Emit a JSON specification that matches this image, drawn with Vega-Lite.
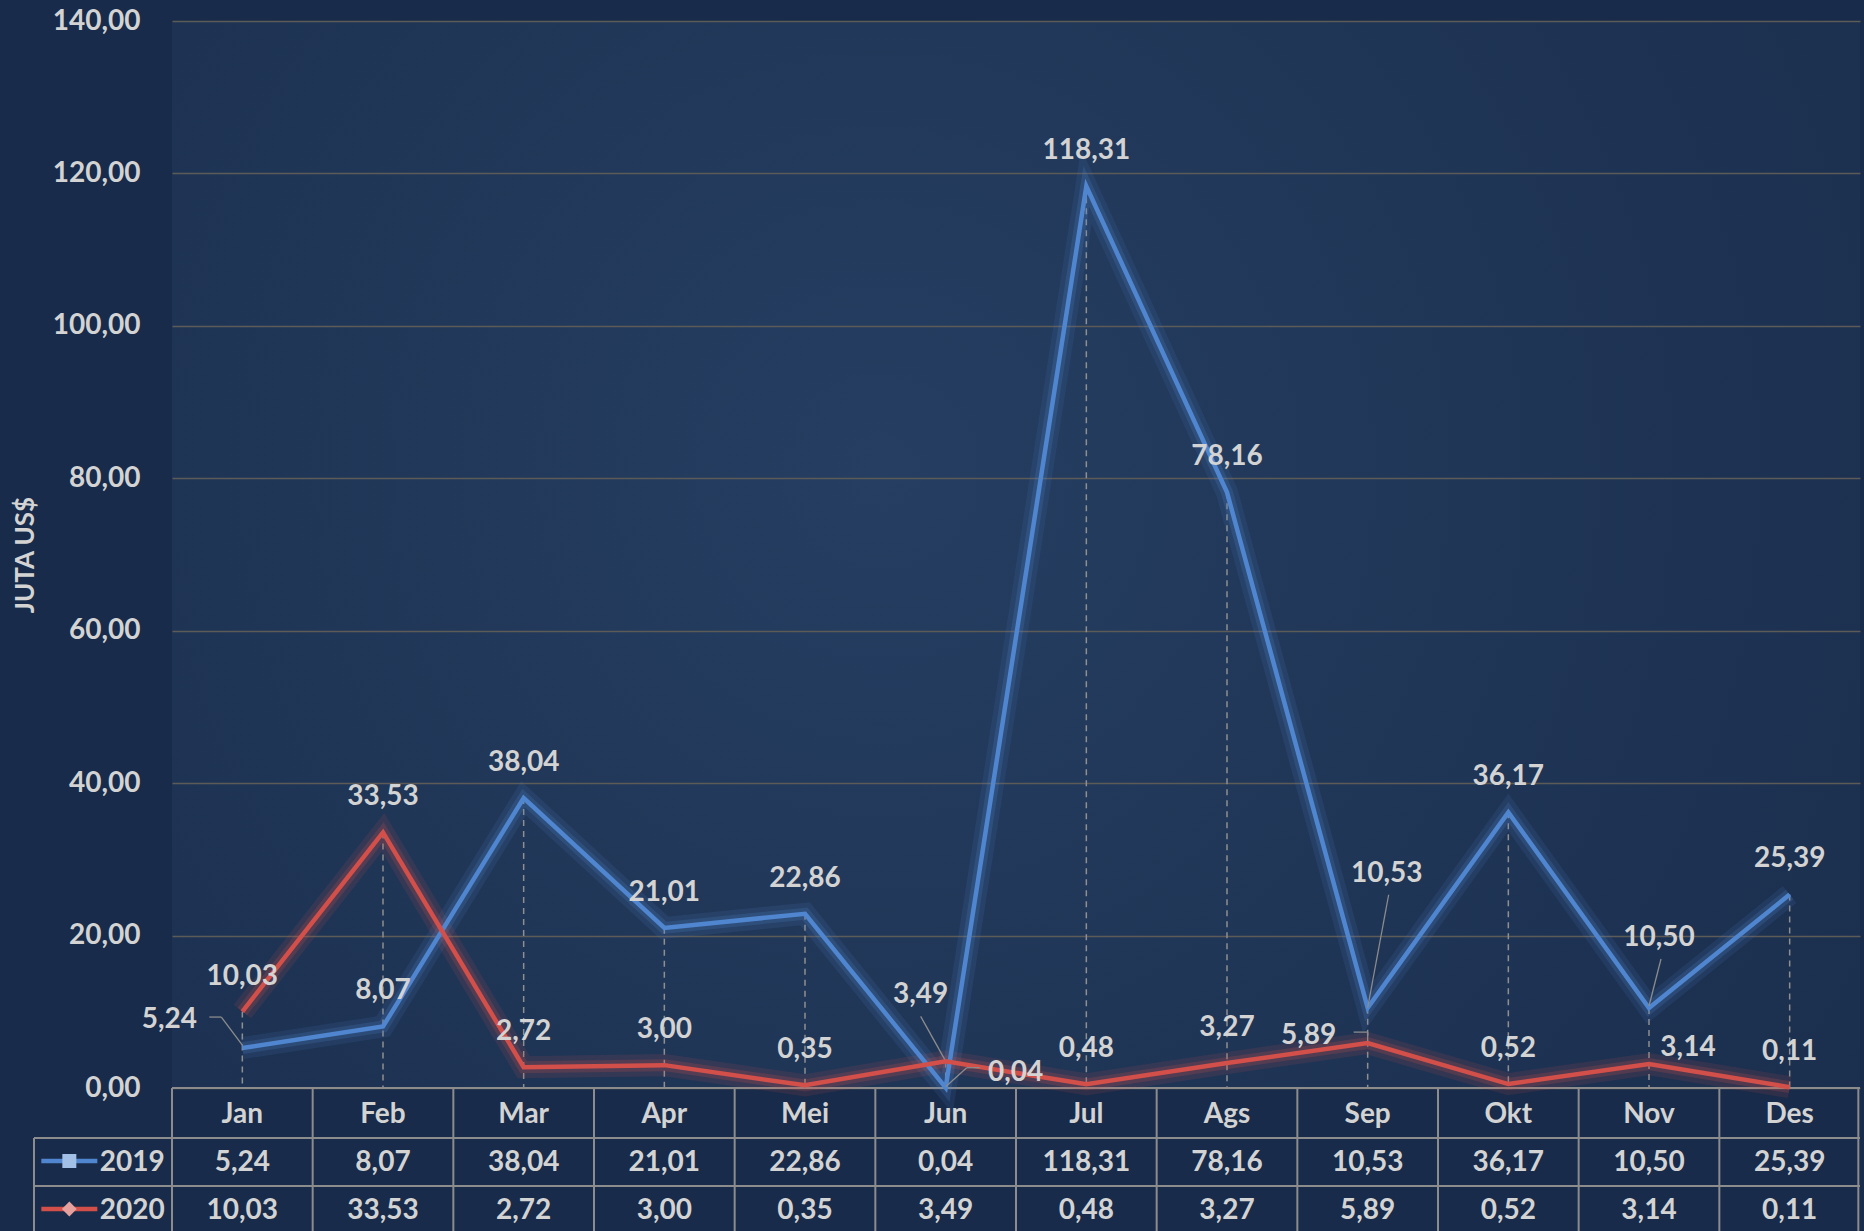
{
  "$schema": "https://vega.github.io/schema/vega-lite/v6.json",
  "width": 1688,
  "height": 1067,
  "autosize": {"type": "none"},
  "padding": {"left": 172, "top": 21, "right": 4, "bottom": 143},
  "background": "#182b4a",
  "config": {
    "locale": {"number": {"decimal": ",", "thousands": ".", "grouping": [3], "currency": ["", ""]}},
    "view": {"stroke": null, "fill": {"gradient": "radial", "x1": 0.42, "y1": 0.45, "r1": 0, "x2": 0.42, "y2": 0.45, "r2": 0.75, "stops": [{"offset": 0, "color": "#253e61"}, {"offset": 1, "color": "#1a2d4c"}]}},
    "font": "Lato",
    "text": {"font": "Lato", "fontWeight": "bold", "fontSize": 28, "fill": "#d3d3d3", "baseline": "middle", "align": "center"}
  },
  "data": {"values": [
    {"month": "Jan", "series": "2019", "value": 5.24},
    {"month": "Feb", "series": "2019", "value": 8.07},
    {"month": "Mar", "series": "2019", "value": 38.04},
    {"month": "Apr", "series": "2019", "value": 21.01},
    {"month": "Mei", "series": "2019", "value": 22.86},
    {"month": "Jun", "series": "2019", "value": 0.04},
    {"month": "Jul", "series": "2019", "value": 118.31},
    {"month": "Ags", "series": "2019", "value": 78.16},
    {"month": "Sep", "series": "2019", "value": 10.53},
    {"month": "Okt", "series": "2019", "value": 36.17},
    {"month": "Nov", "series": "2019", "value": 10.50},
    {"month": "Des", "series": "2019", "value": 25.39},
    {"month": "Jan", "series": "2020", "value": 10.03},
    {"month": "Feb", "series": "2020", "value": 33.53},
    {"month": "Mar", "series": "2020", "value": 2.72},
    {"month": "Apr", "series": "2020", "value": 3.00},
    {"month": "Mei", "series": "2020", "value": 0.35},
    {"month": "Jun", "series": "2020", "value": 3.49},
    {"month": "Jul", "series": "2020", "value": 0.48},
    {"month": "Ags", "series": "2020", "value": 3.27},
    {"month": "Sep", "series": "2020", "value": 5.89},
    {"month": "Okt", "series": "2020", "value": 0.52},
    {"month": "Nov", "series": "2020", "value": 3.14},
    {"month": "Des", "series": "2020", "value": 0.11}
  ]},
  "layer": [
    {
      "mark": {"type": "rule", "stroke": "#8f8f8f", "strokeWidth": 1.5, "strokeDash": [6, 5]},
      "encoding": {
        "x": {"field": "month", "type": "nominal", "scale": {"type": "band", "domain": ["Jan","Feb","Mar","Apr","Mei","Jun","Jul","Ags","Sep","Okt","Nov","Des"], "paddingInner": 0, "paddingOuter": 0}, "axis": null},
        "y": {"aggregate": "max", "field": "value", "type": "quantitative", "title": "JUTA US$",
              "scale": {"domain": [0, 140], "nice": false},
              "axis": {"values": [0,20,40,60,80,100,120,140], "format": ".2f", "labelFont": "Lato", "labelFontSize": 28, "labelFontWeight": "bold", "labelColor": "#d3d3d3", "labelPadding": 32, "ticks": false, "domain": false, "grid": true, "gridColor": "#5d5b57", "gridWidth": 1.5, "title": "JUTA US$", "titleFont": "Lato", "titleFontSize": 26, "titleFontWeight": "bold", "titleColor": "#d3d3d3", "titlePadding": 14}},
        "y2": {"datum": 0}
      }
    },
    {
      "transform": [{"filter": "datum.month == 'Jan' && datum.series == '2019'"}],
      "mark": {"type": "rule", "stroke": "#8c8c8c", "strokeWidth": 2},
      "encoding": {"y": {"datum": 0, "type": "quantitative"}}
    },
    {
      "transform": [{"filter": "datum.month == 'Jan' && datum.series == '2019'"}],
      "mark": {"type": "rule", "stroke": "#8c8c8c", "strokeWidth": 2, "yOffset": 50},
      "encoding": {"y": {"datum": 0, "type": "quantitative"}}
    },
    {
      "transform": [{"filter": "datum.month == 'Jan' && datum.series == '2019'"}],
      "mark": {"type": "rule", "stroke": "#8c8c8c", "strokeWidth": 2, "yOffset": 98},
      "encoding": {"y": {"datum": 0, "type": "quantitative"}}
    },
    {
      "transform": [{"filter": "datum.month == 'Jan' && datum.series == '2019'"}],
      "mark": {"type": "rule", "stroke": "#8c8c8c", "strokeWidth": 2, "xOffset": -138, "x2Offset": 0, "yOffset": 50, "y2Offset": 50},
      "encoding": {"x": {"field": "month", "type": "nominal", "bandPosition": 0}, "x2": {"field": "month", "bandPosition": 0}, "y": {"datum": 0, "type": "quantitative"}, "y2": {"datum": 0}}
    },
    {
      "transform": [{"filter": "datum.month == 'Jan' && datum.series == '2019'"}],
      "mark": {"type": "rule", "stroke": "#8c8c8c", "strokeWidth": 2, "xOffset": -138, "x2Offset": 0, "yOffset": 98, "y2Offset": 98},
      "encoding": {"x": {"field": "month", "type": "nominal", "bandPosition": 0}, "x2": {"field": "month", "bandPosition": 0}, "y": {"datum": 0, "type": "quantitative"}, "y2": {"datum": 0}}
    },
    {
      "transform": [{"filter": "datum.series == '2019'"}],
      "mark": {"type": "rule", "stroke": "#8c8c8c", "strokeWidth": 2, "y2Offset": 150},
      "encoding": {
        "x": {"field": "month", "type": "nominal", "bandPosition": 0},
        "y": {"datum": 0, "type": "quantitative"},
        "y2": {"datum": 0}
      }
    },
    {
      "transform": [{"filter": "datum.month == 'Des' && datum.series == '2019'"}],
      "mark": {"type": "rule", "stroke": "#8c8c8c", "strokeWidth": 2, "xOffset": 139, "y2Offset": 150},
      "encoding": {
        "x": {"field": "month", "type": "nominal", "bandPosition": 0},
        "y": {"datum": 0, "type": "quantitative"},
        "y2": {"datum": 0}
      }
    },
    {
      "transform": [{"filter": "datum.month == 'Jan' && datum.series == '2019'"}],
      "mark": {"type": "rule", "stroke": "#8c8c8c", "strokeWidth": 2, "xOffset": -138, "yOffset": 50, "y2Offset": 150},
      "encoding": {
        "x": {"field": "month", "type": "nominal", "bandPosition": 0},
        "y": {"datum": 0, "type": "quantitative"},
        "y2": {"datum": 0}
      }
    },
    {
      "mark": {"type": "line", "strokeWidth": 22, "opacity": 0.12},
      "encoding": {
        "x": {"field": "month", "type": "nominal"},
        "y": {"field": "value", "type": "quantitative", "title": "JUTA US$"},
        "color": {"field": "series", "type": "nominal", "scale": {"domain": ["2019", "2020"], "range": ["#4f86cf", "#d24f4a"]}, "legend": null}
      }
    },
    {
      "mark": {"type": "line", "strokeWidth": 12, "opacity": 0.2},
      "encoding": {
        "x": {"field": "month", "type": "nominal"},
        "y": {"field": "value", "type": "quantitative", "title": "JUTA US$"},
        "color": {"field": "series", "type": "nominal", "legend": null}
      }
    },
    {
      "mark": {"type": "line", "strokeWidth": 4.5},
      "encoding": {
        "x": {"field": "month", "type": "nominal"},
        "y": {"field": "value", "type": "quantitative", "title": "JUTA US$"},
        "color": {"field": "series", "type": "nominal", "legend": null}
      }
    },
    {
      "transform": [{"filter": "datum.month == 'Jan' && datum.series == '2019'"}],
      "mark": {"type": "rule", "stroke": "#8c8c8c", "strokeWidth": 1.3, "xOffset": -21, "yOffset": -31, "x2Offset": 0, "y2Offset": -3},
      "encoding": {"x": {"field": "month", "type": "nominal", "bandPosition": 0.5}, "x2": {"field": "month", "bandPosition": 0.5}, "y": {"field": "value", "type": "quantitative"}, "y2": {"field": "value"}}
    },
    {
      "transform": [{"filter": "datum.month == 'Jan' && datum.series == '2019'"}],
      "mark": {"type": "rule", "stroke": "#8c8c8c", "strokeWidth": 1.3, "xOffset": -33, "yOffset": -31, "x2Offset": -21, "y2Offset": -31},
      "encoding": {"x": {"field": "month", "type": "nominal", "bandPosition": 0.5}, "x2": {"field": "month", "bandPosition": 0.5}, "y": {"field": "value", "type": "quantitative"}, "y2": {"field": "value"}}
    },
    {
      "transform": [{"filter": "datum.month == 'Jun' && datum.series == '2019'"}],
      "mark": {"type": "rule", "stroke": "#8c8c8c", "strokeWidth": 1.3, "xOffset": 0, "yOffset": -1, "x2Offset": 21, "y2Offset": -20},
      "encoding": {"x": {"field": "month", "type": "nominal", "bandPosition": 0.5}, "x2": {"field": "month", "bandPosition": 0.5}, "y": {"field": "value", "type": "quantitative"}, "y2": {"field": "value"}}
    },
    {
      "transform": [{"filter": "datum.month == 'Jun' && datum.series == '2019'"}],
      "mark": {"type": "rule", "stroke": "#8c8c8c", "strokeWidth": 1.3, "xOffset": 21, "yOffset": -20, "x2Offset": 34, "y2Offset": -20},
      "encoding": {"x": {"field": "month", "type": "nominal", "bandPosition": 0.5}, "x2": {"field": "month", "bandPosition": 0.5}, "y": {"field": "value", "type": "quantitative"}, "y2": {"field": "value"}}
    },
    {
      "transform": [{"filter": "datum.month == 'Jun' && datum.series == '2020'"}],
      "mark": {"type": "rule", "stroke": "#8c8c8c", "strokeWidth": 1.3, "xOffset": -25, "yOffset": -45, "x2Offset": -1, "y2Offset": -2},
      "encoding": {"x": {"field": "month", "type": "nominal", "bandPosition": 0.5}, "x2": {"field": "month", "bandPosition": 0.5}, "y": {"field": "value", "type": "quantitative"}, "y2": {"field": "value"}}
    },
    {
      "transform": [{"filter": "datum.month == 'Sep' && datum.series == '2019'"}],
      "mark": {"type": "rule", "stroke": "#8c8c8c", "strokeWidth": 1.3, "xOffset": 0, "yOffset": 0, "x2Offset": 21, "y2Offset": -113},
      "encoding": {"x": {"field": "month", "type": "nominal", "bandPosition": 0.5}, "x2": {"field": "month", "bandPosition": 0.5}, "y": {"field": "value", "type": "quantitative"}, "y2": {"field": "value"}}
    },
    {
      "transform": [{"filter": "datum.month == 'Nov' && datum.series == '2019'"}],
      "mark": {"type": "rule", "stroke": "#8c8c8c", "strokeWidth": 1.3, "xOffset": 0, "yOffset": -2, "x2Offset": 12, "y2Offset": -49},
      "encoding": {"x": {"field": "month", "type": "nominal", "bandPosition": 0.5}, "x2": {"field": "month", "bandPosition": 0.5}, "y": {"field": "value", "type": "quantitative"}, "y2": {"field": "value"}}
    },
    {
      "transform": [{"filter": "datum.month == 'Sep' && datum.series == '2020'"}],
      "mark": {"type": "rule", "stroke": "#8c8c8c", "strokeWidth": 1.3, "xOffset": -14, "yOffset": -11, "x2Offset": 0, "y2Offset": -11},
      "encoding": {"x": {"field": "month", "type": "nominal", "bandPosition": 0.5}, "x2": {"field": "month", "bandPosition": 0.5}, "y": {"field": "value", "type": "quantitative"}, "y2": {"field": "value"}}
    },
    {
      "transform": [{"filter": "datum.month == 'Sep' && datum.series == '2020'"}],
      "mark": {"type": "rule", "stroke": "#8c8c8c", "strokeWidth": 1.3, "xOffset": 0, "yOffset": -11, "x2Offset": 0, "y2Offset": -2},
      "encoding": {"x": {"field": "month", "type": "nominal", "bandPosition": 0.5}, "x2": {"field": "month", "bandPosition": 0.5}, "y": {"field": "value", "type": "quantitative"}, "y2": {"field": "value"}}
    },
    {
      "transform": [{"filter": "!(datum.series == '2019' && indexof(['Jan','Jun','Sep','Nov'], datum.month) >= 0) && !(datum.series == '2020' && indexof(['Jun','Sep','Nov'], datum.month) >= 0)"}],
      "mark": {"type": "text", "dy": -35},
      "encoding": {"x": {"field": "month", "type": "nominal"}, "y": {"field": "value", "type": "quantitative"}, "text": {"field": "value", "type": "quantitative", "format": ".2f"}}
    },
    {
      "transform": [{"filter": "datum.series == '2019' && datum.month == 'Jan'"}],
      "mark": {"type": "text", "dx": -73, "dy": -28},
      "encoding": {"x": {"field": "month", "type": "nominal"}, "y": {"field": "value", "type": "quantitative"}, "text": {"field": "value", "type": "quantitative", "format": ".2f"}}
    },
    {
      "transform": [{"filter": "datum.series == '2019' && datum.month == 'Jun'"}],
      "mark": {"type": "text", "dx": 70, "dy": -15},
      "encoding": {"x": {"field": "month", "type": "nominal"}, "y": {"field": "value", "type": "quantitative"}, "text": {"field": "value", "type": "quantitative", "format": ".2f"}}
    },
    {
      "transform": [{"filter": "datum.series == '2019' && datum.month == 'Sep'"}],
      "mark": {"type": "text", "dx": 19, "dy": -134},
      "encoding": {"x": {"field": "month", "type": "nominal"}, "y": {"field": "value", "type": "quantitative"}, "text": {"field": "value", "type": "quantitative", "format": ".2f"}}
    },
    {
      "transform": [{"filter": "datum.series == '2019' && datum.month == 'Nov'"}],
      "mark": {"type": "text", "dx": 10, "dy": -70},
      "encoding": {"x": {"field": "month", "type": "nominal"}, "y": {"field": "value", "type": "quantitative"}, "text": {"field": "value", "type": "quantitative", "format": ".2f"}}
    },
    {
      "transform": [{"filter": "datum.series == '2020' && datum.month == 'Jun'"}],
      "mark": {"type": "text", "dx": -25, "dy": -66},
      "encoding": {"x": {"field": "month", "type": "nominal"}, "y": {"field": "value", "type": "quantitative"}, "text": {"field": "value", "type": "quantitative", "format": ".2f"}}
    },
    {
      "transform": [{"filter": "datum.series == '2020' && datum.month == 'Sep'"}],
      "mark": {"type": "text", "dx": -59, "dy": -7},
      "encoding": {"x": {"field": "month", "type": "nominal"}, "y": {"field": "value", "type": "quantitative"}, "text": {"field": "value", "type": "quantitative", "format": ".2f"}}
    },
    {
      "transform": [{"filter": "datum.series == '2020' && datum.month == 'Nov'"}],
      "mark": {"type": "text", "dx": 39, "dy": -16},
      "encoding": {"x": {"field": "month", "type": "nominal"}, "y": {"field": "value", "type": "quantitative"}, "text": {"field": "value", "type": "quantitative", "format": ".2f"}}
    },
    {
      "transform": [{"filter": "datum.series == '2019'"}],
      "mark": {"type": "text", "dy": 27},
      "encoding": {"x": {"field": "month", "type": "nominal"}, "y": {"datum": 0, "type": "quantitative"}, "text": {"field": "month", "type": "nominal"}}
    },
    {
      "transform": [{"filter": "datum.series == '2019'"}],
      "mark": {"type": "text", "dy": 75},
      "encoding": {"x": {"field": "month", "type": "nominal"}, "y": {"datum": 0, "type": "quantitative"}, "text": {"field": "value", "type": "quantitative", "format": ".2f"}}
    },
    {
      "transform": [{"filter": "datum.series == '2020'"}],
      "mark": {"type": "text", "dy": 123},
      "encoding": {"x": {"field": "month", "type": "nominal"}, "y": {"datum": 0, "type": "quantitative"}, "text": {"field": "value", "type": "quantitative", "format": ".2f"}}
    },
    {
      "transform": [{"filter": "datum.series == '2019' && datum.month == 'Jan'"}],
      "mark": {"type": "text", "dx": -110, "dy": 75},
      "encoding": {"x": {"field": "month", "type": "nominal"}, "y": {"datum": 0, "type": "quantitative"}, "text": {"field": "series", "type": "nominal"}}
    },
    {
      "transform": [{"filter": "datum.series == '2020' && datum.month == 'Jan'"}],
      "mark": {"type": "text", "dx": -110, "dy": 123},
      "encoding": {"x": {"field": "month", "type": "nominal"}, "y": {"datum": 0, "type": "quantitative"}, "text": {"field": "series", "type": "nominal"}}
    },
    {
      "transform": [{"filter": "datum.series == '2019' && datum.month == 'Jan'"}],
      "mark": {"type": "point", "shape": "stroke", "size": 3136, "strokeWidth": 4.5, "opacity": 1, "xOffset": -173, "yOffset": 73},
      "encoding": {"x": {"field": "month", "type": "nominal"}, "y": {"datum": 0, "type": "quantitative"}, "color": {"field": "series", "type": "nominal", "legend": null}}
    },
    {
      "transform": [{"filter": "datum.series == '2020' && datum.month == 'Jan'"}],
      "mark": {"type": "point", "shape": "stroke", "size": 3136, "strokeWidth": 4.5, "opacity": 1, "xOffset": -173, "yOffset": 121},
      "encoding": {"x": {"field": "month", "type": "nominal"}, "y": {"datum": 0, "type": "quantitative"}, "color": {"field": "series", "type": "nominal", "legend": null}}
    },
    {
      "transform": [{"filter": "datum.series == '2019' && datum.month == 'Jan'"}],
      "mark": {"type": "point", "shape": "square", "filled": true, "size": 196, "opacity": 1, "fill": "#a2bfe6", "xOffset": -173, "yOffset": 73},
      "encoding": {"x": {"field": "month", "type": "nominal"}, "y": {"datum": 0, "type": "quantitative"}}
    },
    {
      "transform": [{"filter": "datum.series == '2020' && datum.month == 'Jan'"}],
      "mark": {"type": "point", "shape": "diamond", "filled": true, "size": 220, "opacity": 1, "fill": "#e6a19f", "xOffset": -173, "yOffset": 121},
      "encoding": {"x": {"field": "month", "type": "nominal"}, "y": {"datum": 0, "type": "quantitative"}}
    }
  ]
}
